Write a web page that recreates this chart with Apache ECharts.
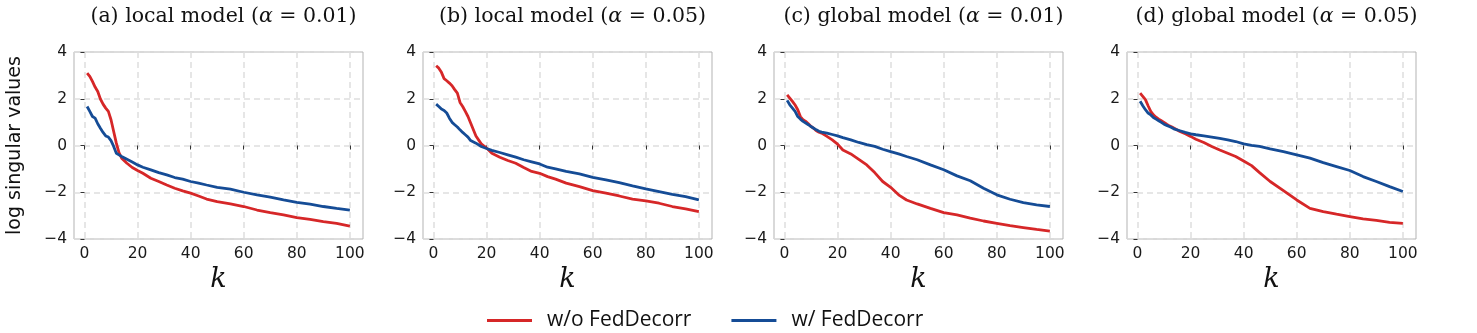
<!DOCTYPE html>
<html>
<head>
<meta charset="utf-8">
<script src="https://cdn.jsdelivr.net/npm/echarts@6/dist/echarts.min.js"></script>
<style>
  html, body { margin: 0; padding: 0; background: #fff; }
  #chart { width: 1477px; height: 333px; }
</style>
</head>
<body>
<div id="chart"></div>
<script>
const ks = [1,2,3,4,5,6,7,8,9,10,11,12,13,14,16,18,20,22,25,28,31,34,37,40,43,46,50,55,60,65,70,75,80,85,90,95,100];

const titles = ['(a) local model', '(b) local model', '(c) global model', '(d) global model'];
const alphas = ['0.01', '0.05', '0.01', '0.05'];
const seriesNames = ['w/o FedDecorr', 'w/ FedDecorr'];
const xTicks = [0, 20, 40, 60, 80, 100];

// w/o FedDecorr (red)
const localA01_wo = [3.10,2.96,2.74,2.50,2.31,1.99,1.77,1.60,1.46,1.10,0.60,0.10,-0.30,-0.54,-0.76,-0.94,-1.07,-1.19,-1.40,-1.54,-1.69,-1.83,-1.94,-2.04,-2.16,-2.29,-2.40,-2.50,-2.61,-2.76,-2.87,-2.97,-3.09,-3.16,-3.26,-3.33,-3.45];
const localA05_wo = [3.41,3.31,3.13,2.86,2.77,2.67,2.56,2.39,2.24,1.84,1.67,1.46,1.24,0.96,0.41,0.07,-0.11,-0.33,-0.50,-0.64,-0.76,-0.94,-1.11,-1.19,-1.33,-1.44,-1.61,-1.76,-1.93,-2.04,-2.16,-2.29,-2.37,-2.47,-2.61,-2.71,-2.83];
const globalA01_wo = [2.17,2.03,1.89,1.73,1.53,1.24,1.10,1.03,0.93,0.81,0.74,0.63,0.57,0.53,0.39,0.24,0.06,-0.19,-0.36,-0.59,-0.83,-1.16,-1.54,-1.79,-2.11,-2.33,-2.50,-2.69,-2.87,-2.97,-3.11,-3.23,-3.33,-3.43,-3.51,-3.59,-3.66];
const globalA05_wo = [2.24,2.10,1.96,1.70,1.46,1.31,1.21,1.13,1.06,0.99,0.91,0.84,0.79,0.73,0.60,0.50,0.39,0.27,0.13,-0.04,-0.19,-0.33,-0.47,-0.66,-0.86,-1.16,-1.54,-1.93,-2.33,-2.69,-2.83,-2.94,-3.04,-3.14,-3.20,-3.29,-3.33];

// w/ FedDecorr (blue)
const localA01_w = [1.67,1.46,1.24,1.17,0.93,0.74,0.56,0.41,0.36,0.21,-0.04,-0.33,-0.40,-0.47,-0.59,-0.71,-0.83,-0.93,-1.04,-1.16,-1.26,-1.37,-1.44,-1.54,-1.61,-1.69,-1.79,-1.87,-2.00,-2.11,-2.21,-2.33,-2.43,-2.51,-2.61,-2.69,-2.76];
const localA05_w = [1.77,1.67,1.56,1.50,1.39,1.17,0.99,0.89,0.79,0.67,0.56,0.46,0.36,0.21,0.10,-0.04,-0.13,-0.21,-0.30,-0.40,-0.50,-0.61,-0.70,-0.79,-0.93,-1.00,-1.11,-1.21,-1.36,-1.47,-1.59,-1.73,-1.86,-1.97,-2.09,-2.19,-2.33];
const globalA01_w = [1.93,1.74,1.60,1.46,1.24,1.13,1.03,0.96,0.89,0.81,0.74,0.67,0.61,0.57,0.53,0.47,0.41,0.34,0.24,0.13,0.04,-0.04,-0.16,-0.26,-0.36,-0.47,-0.61,-0.83,-1.04,-1.30,-1.51,-1.83,-2.11,-2.30,-2.44,-2.54,-2.61];
const globalA05_w = [1.89,1.70,1.53,1.39,1.31,1.20,1.13,1.06,0.99,0.91,0.86,0.81,0.76,0.70,0.63,0.56,0.50,0.46,0.41,0.36,0.30,0.24,0.17,0.07,0.01,-0.04,-0.14,-0.26,-0.40,-0.54,-0.73,-0.90,-1.07,-1.33,-1.54,-1.76,-1.97];

const woData = [localA01_wo, localA05_wo, globalA01_wo, globalA05_wo];
const wData = [localA01_w, localA05_w, globalA01_w, globalA05_w];

const RED = '#d62728', BLUE = '#154c96';
const lefts = [74, 423, 774, 1127];
const plotW = 289, plotTop = 52, plotH = 187;

const grid = [], xAxis = [], yAxis = [], series = [], title = [];
const minus = v => String(v).replace('-', '\u2212');

for (let i = 0; i < 4; i++) {
  grid.push({ left: lefts[i], top: plotTop, width: plotW, height: plotH,
    show: true, borderColor: '#b3b3b3', borderWidth: 1, backgroundColor: 'transparent' });
  title.push({
    text: titles[i] + ' ({a|α} = ' + alphas[i] + ')',
    left: lefts[i] + plotW / 2, top: 1, textAlign: 'center',
    textStyle: { fontFamily: 'DejaVu Serif', fontSize: 20.5, fontWeight: 'normal', color: '#111',
      rich: { a: { fontFamily: 'DejaVu Serif', fontStyle: 'italic', fontSize: 20.5, color: '#111' } } }
  });
  xAxis.push({
    type: 'value', gridIndex: i, min: -3.95, max: 104.95,
    name: 'k', nameLocation: 'middle', nameGap: 27,
    nameTextStyle: { fontFamily: 'DejaVu Serif', fontStyle: 'italic', fontSize: 27, color: '#111' },
    axisLine: { show: false },
    axisTick: { show: true, inside: false, length: 4, customValues: xTicks, lineStyle: { color: '#333' } },
    axisLabel: { customValues: xTicks, margin: 7, fontFamily: 'DejaVu Sans', fontSize: 15.5, color: '#1a1a1a' },
    splitLine: { show: true, lineStyle: { color: '#dedede', type: [6, 4], width: 1.5 } }
  });
  yAxis.push({
    type: 'value', gridIndex: i, min: -4, max: 4, interval: 2,
    name: i === 0 ? 'log singular values' : '', nameLocation: 'middle', nameGap: 49, nameRotate: 90,
    nameTextStyle: { fontFamily: 'DejaVu Sans', fontSize: 19, color: '#111' },
    axisLine: { show: false },
    axisTick: { show: true, inside: false, length: 4, lineStyle: { color: '#333' } },
    axisLabel: { margin: 7, fontFamily: 'DejaVu Sans', fontSize: 15.5, color: '#1a1a1a', formatter: minus },
    splitLine: { show: true, lineStyle: { color: '#dedede', type: [6, 4], width: 1.5 } }
  });
  series.push({
    name: seriesNames[0], type: 'line', xAxisIndex: i, yAxisIndex: i,
    data: ks.map((k, j) => [k, woData[i][j]]), showSymbol: false, symbol: 'none',
    lineStyle: { color: RED, width: 2.8 }, itemStyle: { color: RED }, z: 3
  });
  series.push({
    name: seriesNames[1], type: 'line', xAxisIndex: i, yAxisIndex: i,
    data: ks.map((k, j) => [k, wData[i][j]]), showSymbol: false, symbol: 'none',
    lineStyle: { color: BLUE, width: 2.8 }, itemStyle: { color: BLUE }, z: 4
  });
}

const chart = echarts.init(document.getElementById('chart'), null, { renderer: 'canvas' });
chart.setOption({
  animation: false,
  title: title,
  grid: grid,
  xAxis: xAxis,
  yAxis: yAxis,
  legend: {
    data: seriesNames, left: 482, top: 305,
    icon: 'rect', itemWidth: 45, itemHeight: 3, itemGap: 40,
    textStyle: { fontFamily: 'Open Sans', fontSize: 21, color: '#111', padding: [0, 0, 0, 10] }
  },
  series: series
});
</script>
</body>
</html>
